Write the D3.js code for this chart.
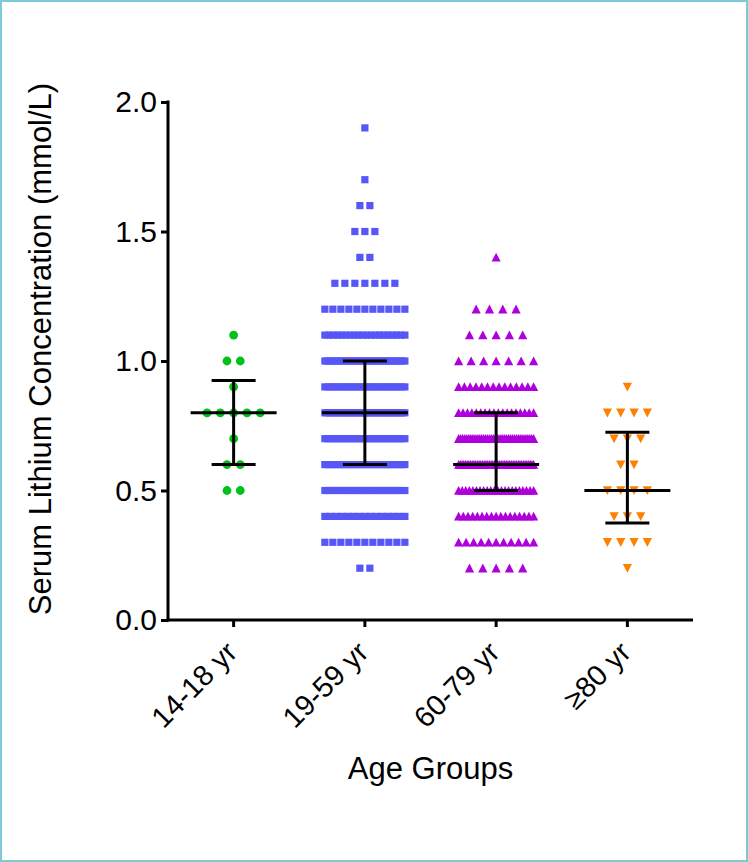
<!DOCTYPE html>
<html>
<head>
<meta charset="utf-8">
<script src="https://cdn.jsdelivr.net/npm/d3@7/dist/d3.min.js"></script>
<style>
  html, body { margin: 0; padding: 0; background: #fff; }
  svg { display: block; }
  text { font-family: "Liberation Sans", Arial, Helvetica, sans-serif; fill: #000; }
</style>
</head>
<body>
<svg id="chart" width="748" height="862"></svg>
<script>
// ---- data ----
const categories = ["14-18 yr", "19-59 yr", "60-79 yr", "\u226580 yr"];
const rowLevels   = [0.2, 0.3, 0.4, 0.5, 0.6, 0.7, 0.8, 0.9, 1.0, 1.1, 1.2, 1.3, 1.4, 1.5, 1.6, 1.7, 1.8, 1.9];
const countsTeen   = [0, 0, 0, 2, 2, 1, 5, 1, 2, 1, 0, 0, 0, 0, 0, 0, 0, 0];
const countsAdult  = [2, 11, 15, 20, 25, 25, 35, 25, 30, 20, 11, 7, 2, 3, 2, 1, 0, 1];
const countsSenior = [5, 11, 17, 22, 45, 40, 18, 14, 7, 5, 4, 0, 1, 0, 0, 0, 0, 0];
const countsElder  = [1, 4, 3, 4, 2, 3, 4, 1, 0, 0, 0, 0, 0, 0, 0, 0, 0, 0];
const yTicks = [0.0, 0.5, 1.0, 1.5, 2.0];
const xTitle = "Age Groups";
const yTitle = "Serum Lithium Concentration (mmol/L)";

const groups = [
  { name: categories[0], counts: countsTeen,   color: "#00c21a", shape: "circle",  nominal: 13.3, maxSpan: 75 },
  { name: categories[1], counts: countsAdult,  color: "#5757f7", shape: "square",  nominal: 10,   maxSpan: 80 },
  { name: categories[2], counts: countsSenior, color: "#ae00dc", shape: "up",      nominal: 13.3, maxSpan: 75 },
  { name: categories[3], counts: countsElder,  color: "#ff8000", shape: "down",    nominal: 13.3, maxSpan: 75 }
];

// ---- layout ----
const svg = d3.select("#chart");
const mLeft = 168, mRight = 693, mTop = 102, mBottom = 620;

svg.append("rect").attr("x", 1).attr("y", 1).attr("width", 746).attr("height", 860)
  .attr("fill", "#fff").attr("stroke", "#7ecbd8").attr("stroke-width", 2);

const x = d3.scaleBand().domain(categories).range([mLeft, mRight]).padding(0);
const y = d3.scaleLinear().domain([0, 2]).range([mBottom, mTop]);

// Prism-style quantile ((n+1)p)
function quant(sorted, p) {
  const n = sorted.length;
  const pos = (n + 1) * p;
  if (pos <= 1) return sorted[0];
  if (pos >= n) return sorted[n - 1];
  const lo = Math.floor(pos), frac = pos - lo;
  return sorted[lo - 1] + frac * (sorted[lo] - sorted[lo - 1]);
}

const g = svg.append("g");

groups.forEach(grp => {
  const cx = x(grp.name) + x.bandwidth() / 2;
  const pts = [];
  const values = [];
  grp.counts.forEach((c, i) => {
    if (!c) return;
    const v = rowLevels[i];
    const s = c > 1 ? Math.min(grp.nominal, grp.maxSpan / (c - 1)) : 0;
    for (let k = 0; k < c; k++) {
      pts.push({ x: cx + (k - (c - 1) / 2) * s, y: y(v) });
      values.push(v);
    }
  });
  const layer = g.append("g").attr("fill", grp.color);
  if (grp.shape === "circle") {
    layer.selectAll("circle").data(pts).join("circle")
      .attr("cx", d => d.x).attr("cy", d => d.y).attr("r", 4.4);
  } else if (grp.shape === "square") {
    layer.selectAll("rect").data(pts).join("rect")
      .attr("x", d => d.x - 3.6).attr("y", d => d.y - 3.6).attr("width", 7.2).attr("height", 7.2);
  } else if (grp.shape === "up") {
    layer.selectAll("path").data(pts).join("path")
      .attr("d", d => `M${d.x},${d.y - 4.6}L${d.x + 4.6},${d.y + 4.2}L${d.x - 4.6},${d.y + 4.2}Z`);
  } else {
    layer.selectAll("path").data(pts).join("path")
      .attr("d", d => `M${d.x},${d.y + 4.6}L${d.x + 4.6},${d.y - 4.2}L${d.x - 4.6},${d.y - 4.2}Z`);
  }

  values.sort((a, b) => a - b);
  const med = quant(values, 0.5), q1 = quant(values, 0.25), q3 = quant(values, 0.75);
  const eb = g.append("g").attr("stroke", "#000").attr("stroke-width", 3).attr("fill", "none");
  eb.append("line").attr("x1", cx).attr("x2", cx).attr("y1", y(q1)).attr("y2", y(q3));
  eb.append("line").attr("x1", cx - 43).attr("x2", cx + 43).attr("y1", y(med)).attr("y2", y(med));
  eb.append("line").attr("x1", cx - 22).attr("x2", cx + 22).attr("y1", y(q1)).attr("y2", y(q1));
  eb.append("line").attr("x1", cx - 22).attr("x2", cx + 22).attr("y1", y(q3)).attr("y2", y(q3));
});

// ---- axes ----
const yAxis = svg.append("g").attr("transform", `translate(${mLeft},0)`)
  .call(d3.axisLeft(y).tickValues(yTicks).tickFormat(d3.format(".1f")).tickSize(7).tickPadding(4));
const xAxis = svg.append("g").attr("transform", `translate(0,${mBottom})`)
  .call(d3.axisBottom(x).tickSize(7).tickFormat(""));

[yAxis, xAxis].forEach(ax => {
  ax.select(".domain").remove();
  ax.selectAll(".tick line").attr("stroke", "#000").attr("stroke-width", 3);
});
yAxis.selectAll(".tick text").attr("font-size", 30).attr("font-family", "Liberation Sans, Arial, sans-serif");

svg.append("line").attr("x1", mLeft).attr("x2", mLeft).attr("y1", mTop - 1.5).attr("y2", mBottom + 1.5)
  .attr("stroke", "#000").attr("stroke-width", 3);
svg.append("line").attr("x1", mLeft - 1.5).attr("x2", mRight).attr("y1", mBottom).attr("y2", mBottom)
  .attr("stroke", "#000").attr("stroke-width", 3);

// rotated x labels
svg.append("g").selectAll("text").data(categories).join("text")
  .attr("transform", d => `translate(${x(d) + x.bandwidth() / 2 - 2},${mBottom + 27}) rotate(-45)`)
  .attr("text-anchor", "end").attr("dy", "0.35em")
  .attr("font-size", 29).text(d => d);

// titles
svg.append("text").attr("x", (mLeft + mRight) / 2).attr("y", 779)
  .attr("text-anchor", "middle").attr("font-size", 31).text(xTitle);
svg.append("text").attr("transform", `translate(51,349) rotate(-90)`)
  .attr("text-anchor", "middle").attr("font-size", 31).text(yTitle);
</script>
</body>
</html>
